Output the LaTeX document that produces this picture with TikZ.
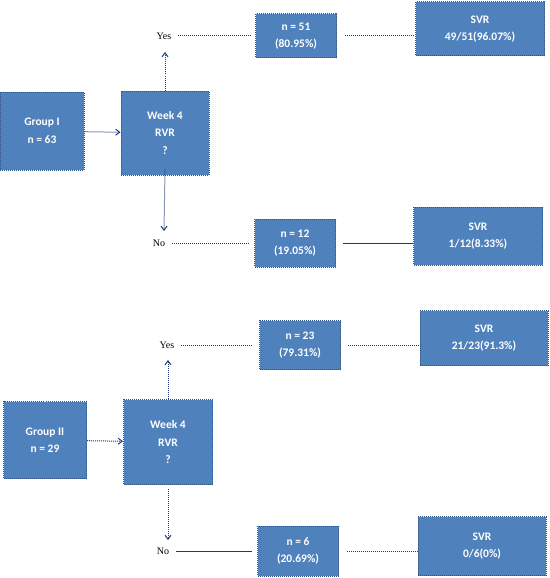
\documentclass[tikz,border=0pt]{standalone}
\usepackage{fontspec}
\setmainfont{Liberation Serif}
\newfontfamily\boxfont{Carlito}
\usetikzlibrary{arrows.meta,positioning}
\definecolor{Fill}{HTML}{4F81BD}
\definecolor{Edge}{HTML}{2E5386}
\definecolor{Wire}{HTML}{1F3B73}
\begin{document}
\begin{tikzpicture}[
 x=1pt,y=-1pt,
 b/.style={draw=Edge,densely dotted,line width=1pt,fill=Fill,text=white,font=\boxfont\bfseries\fontsize{11.5}{17.5}\selectfont,align=center,inner sep=0pt},
 a/.style={-{Straight Barb[open,length=4pt,width=6pt]},densely dotted,line width=1pt,draw=Wire},
 l/.style={densely dotted,line width=1pt,draw=Wire},
 s/.style={line width=1pt,draw=Wire},
 t/.style={font=\fontsize{10}{11}\selectfont,inner sep=1pt}
]
\useasboundingbox (0,0) rectangle (549,578);
% group I
\node[b,minimum width=84pt,minimum height=78pt] (g1) at (42,131) {Group I\\n = 63};
\node[b,minimum width=88pt,minimum height=84pt] (w1) at (165,133) {Week 4\\RVR\\?};
\node[t] (yes1) at (164,36) {Yes};
\node[t] (no1) at (159,243) {No};
\node[b,minimum width=81pt,minimum height=44pt] (n51) at (296,36) {n = 51\\(80.95\%)};
\node[b,minimum width=81pt,minimum height=48pt] (n12) at (295,243) {n = 12\\(19.05\%)};
\node[b,minimum width=129pt,minimum height=54pt] (svr1) at (480,29) {SVR\\49/51(96.07\%)};
\node[b,minimum width=129pt,minimum height=58pt] (svr2) at (478,236) {SVR\\1/12(8.33\%)};
\draw[a] (g1)--(w1);\draw[a] (w1)--(165,52);\draw[a] ([yshift=6pt]w1.south)--(164,231);
\draw[l] ([xshift=6pt]yes1.east)--([xshift=-4pt]n51.west);\draw[l] ([xshift=8pt]n51.east)--(svr1.west|-n51);
\draw[l] ([xshift=6pt]no1.east)--([xshift=-5pt]n12.west);\draw[s] ([xshift=7pt]n12.east)--(svr2.west|-n12);
% group II
\node[b,minimum width=83pt,minimum height=77pt] (g2) at (45,440) {Group II\\n = 29};
\node[b,minimum width=89pt,minimum height=85pt] (w2) at (168,442) {Week 4\\RVR\\?};
\node[t] (yes2) at (167,345) {Yes};
\node[t] (no2) at (163,551) {No};
\node[b,minimum width=81pt,minimum height=49pt] (n23) at (300,345) {n = 23\\(79.31\%)};
\node[b,minimum width=81pt,minimum height=50pt] (n6) at (298,551) {n = 6\\(20.69\%)};
\node[b,minimum width=128pt,minimum height=55pt] (svr3) at (484,338) {SVR\\21/23(91.3\%)};
\node[b,minimum width=128pt,minimum height=59pt] (svr4) at (482,546) {SVR\\0/6(0\%)};
\draw[a] (g2)--(w2);\draw[a] (w2)--(168,360);\draw[a] ([yshift=-4pt]w2.south)--(168,540);
\draw[l] ([xshift=6pt]yes2.east)--([xshift=-6pt]n23.west);\draw[l] ([xshift=7pt]n23.east)--(svr3.west|-n23);
\draw[s] ([xshift=6pt]no2.east)--([xshift=-5pt]n6.west);\draw[l] ([xshift=8pt]n6.east)--(svr4.west|-n6);
\end{tikzpicture}
\end{document}
